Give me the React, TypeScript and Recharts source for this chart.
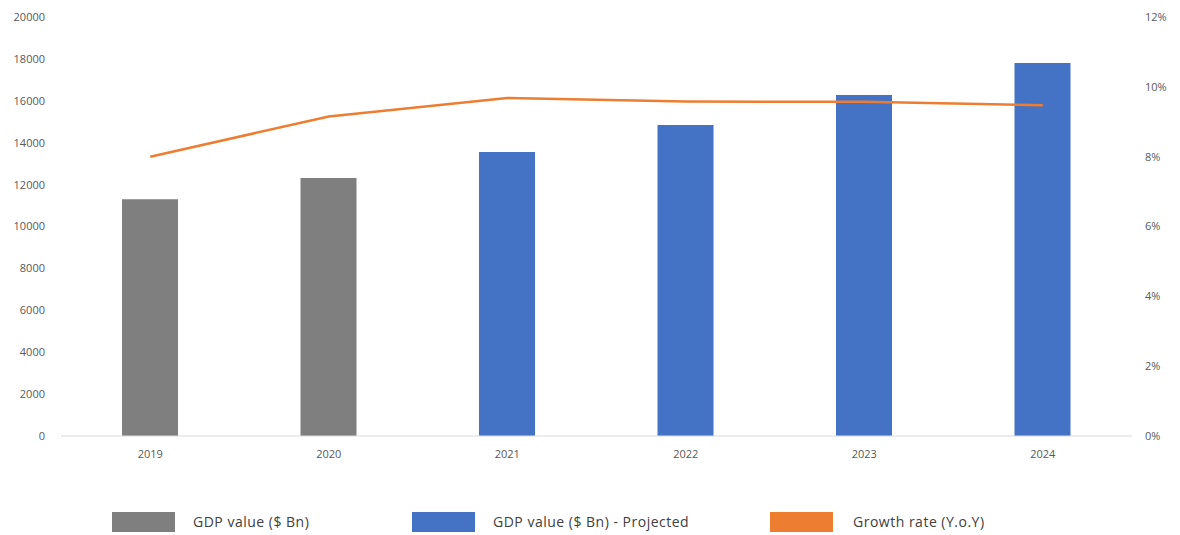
import React from "react";
import { ComposedChart, Bar, Line, XAxis, YAxis } from "recharts";

const years = ["2019", "2020", "2021", "2022", "2023", "2024"];
const gdpActual: (number | null)[] = [11300, 12320, null, null, null, null];
const gdpProjected: (number | null)[] = [null, null, 13560, 14850, 16280, 17800];
const growthRate = [8.0, 9.15, 9.68, 9.58, 9.57, 9.47];

const leftTicks = [0, 2000, 4000, 6000, 8000, 10000, 12000, 14000, 16000, 18000, 20000];
const rightTicks = [0, 2, 4, 6, 8, 10, 12];

const data = years.map((y, i) => ({
  year: y,
  actual: gdpActual[i],
  projected: gdpProjected[i],
  growth: growthRate[i],
}));

const legendItems = [
  { label: "GDP value ($ Bn)", color: "#7f7f7f", left: 112, textLeft: 193 },
  { label: "GDP value ($ Bn) - Projected", color: "#4472c4", left: 412, textLeft: 493 },
  { label: "Growth rate (Y.o.Y)", color: "#ed7d31", left: 770, textLeft: 853 },
];

const font = "'Open Sans', 'Noto Sans', sans-serif";

export default function App() {
  return (
    <div style={{ position: "absolute", left: 0, top: 0, width: 1180, height: 535, background: "#fff", fontFamily: font }}>
      <ComposedChart
        width={1180}
        height={470}
        data={data}
        margin={{ top: 17, right: 0, bottom: 0, left: 0 }}
        barCategoryGap={0}
      >
        <XAxis
          dataKey="year"
          height={34}
          tickLine={false}
          axisLine={{ stroke: "#d9d9d9" }}
          tick={{ fill: "#595959", fontSize: 11, fontFamily: font }}
          tickMargin={8}
        />
        <YAxis
          yAxisId="left"
          orientation="left"
          width={61}
          domain={[0, 20000]}
          ticks={leftTicks}
          interval={0}
          tickLine={false}
          axisLine={false}
          tickMargin={10}
          tick={{ fill: "#595959", fontSize: 11, fontFamily: font }}
        />
        <YAxis
          yAxisId="right"
          orientation="right"
          width={48}
          domain={[0, 12]}
          ticks={rightTicks}
          interval={0}
          tickLine={false}
          axisLine={false}
          tickMargin={7}
          tickFormatter={(v: number) => `${v}%`}
          tick={{ fill: "#595959", fontSize: 11, fontFamily: font }}
        />
        <Bar yAxisId="left" dataKey="actual" stackId="gdp" fill="#7f7f7f" barSize={56} isAnimationActive={false} />
        <Bar yAxisId="left" dataKey="projected" stackId="gdp" fill="#4472c4" barSize={56} isAnimationActive={false} />
        <Line
          yAxisId="right"
          dataKey="growth"
          type="linear"
          stroke="#ed7d31"
          strokeWidth={2.5}
          dot={false}
          activeDot={false}
          isAnimationActive={false}
        />
      </ComposedChart>
      {legendItems.map((it) => (
        <React.Fragment key={it.label}>
          <div style={{ position: "absolute", left: it.left, top: 512, width: 63, height: 20, background: it.color }} />
          <div style={{ position: "absolute", left: it.textLeft, top: 512, fontSize: 14, letterSpacing: 0.5, color: "#404040", lineHeight: "20px", whiteSpace: "nowrap" }}>
            {it.label}
          </div>
        </React.Fragment>
      ))}
    </div>
  );
}
